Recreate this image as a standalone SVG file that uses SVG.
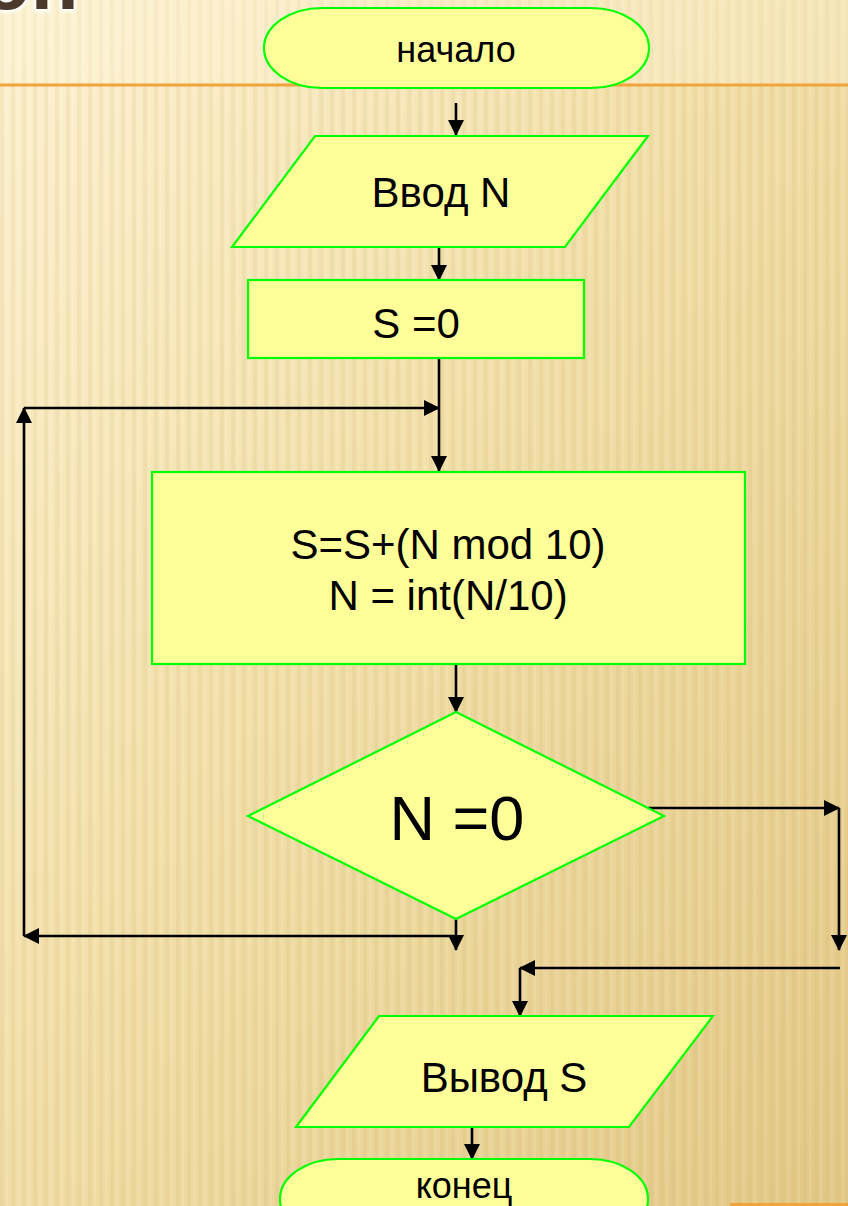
<svg xmlns="http://www.w3.org/2000/svg" width="848" height="1206" viewBox="0 0 848 1206">
  <defs>
    <linearGradient id="bg" x1="0" y1="0" x2="1" y2="1">
      <stop offset="0" stop-color="#fdf1d1"/>
      <stop offset="0.45" stop-color="#f2dfa9"/>
      <stop offset="1" stop-color="#e2c886"/>
    </linearGradient>
    <pattern id="stripes" width="11" height="40" patternUnits="userSpaceOnUse">
      <rect x="0" y="0" width="4" height="40" fill="#c9a85a" opacity="0.13"/>
      <rect x="6" y="0" width="2" height="40" fill="#ffffff" opacity="0.10"/>
    </pattern>
    <filter id="glow" x="-20%" y="-20%" width="140%" height="140%">
      <feGaussianBlur stdDeviation="1.5"/>
    </filter>
    <marker id="arrow" markerWidth="16" markerHeight="16" viewBox="0 0 16 16" refX="15" refY="8" orient="auto" markerUnits="userSpaceOnUse">
      <path d="M0,0 L16,8 L0,16 Z" fill="#000"/>
    </marker>
    <style>
      .shape { fill: #ffff99; stroke: #00ff00; stroke-width: 2.2; }
      .conn { fill: none; stroke: #000; stroke-width: 2.6; }
      .lbl { font-family: "Liberation Sans", Arial, sans-serif; fill: #000; text-anchor: middle; font-size: 42px; }
      .term { font-size: 36px; }
      .big { font-size: 63px; }
      .title { font-family: "Liberation Sans", Arial, sans-serif; font-size: 80px; font-weight: bold; }
    </style>
  </defs>

  <!-- slide background -->
  <rect x="0" y="0" width="848" height="1206" fill="url(#bg)"/>
  <rect x="0" y="0" width="848" height="1206" fill="url(#stripes)"/>
  <rect x="0" y="0" width="848" height="86" fill="#fff6dc" opacity="0.35"/>

  <!-- title remnant and rule -->
  <g id="title">
    <text class="title" x="-18" y="9" fill="#fff" stroke="#fff" stroke-width="5" filter="url(#glow)">он</text>
    <text class="title" x="-18" y="9" fill="#4b3a2c">он</text>
  </g>
  <line x1="0" y1="85" x2="848" y2="85" stroke="#f0a43a" stroke-width="3"/>
  <rect x="730" y="1203" width="118" height="3" fill="#f0a43a"/>

  <!-- connectors -->
  <g id="connectors">
    <line class="conn" x1="456" y1="103" x2="456" y2="135" marker-end="url(#arrow)"/>
    <line class="conn" x1="439" y1="247" x2="439" y2="280" marker-end="url(#arrow)"/>
    <line class="conn" x1="439" y1="358" x2="439" y2="471" marker-end="url(#arrow)"/>
    <line class="conn" x1="456" y1="664" x2="456" y2="712" marker-end="url(#arrow)"/>
    <!-- loop back: diamond bottom to left rail and up -->
    <line class="conn" x1="456" y1="918" x2="456" y2="950" marker-end="url(#arrow)"/>
    <line class="conn" x1="456" y1="936" x2="24" y2="936" marker-end="url(#arrow)"/>
    <line class="conn" x1="24" y1="936" x2="24" y2="408" marker-end="url(#arrow)"/>
    <line class="conn" x1="24" y1="408" x2="439" y2="408" marker-end="url(#arrow)"/>
    <!-- exit: diamond right to output -->
    <line class="conn" x1="648" y1="808" x2="839" y2="808" marker-end="url(#arrow)"/>
    <line class="conn" x1="839" y1="808" x2="839" y2="950" marker-end="url(#arrow)"/>
    <line class="conn" x1="840" y1="968" x2="520" y2="968" marker-end="url(#arrow)"/>
    <line class="conn" x1="520" y1="968" x2="520" y2="1016" marker-end="url(#arrow)"/>
    <line class="conn" x1="472" y1="1127" x2="472" y2="1159" marker-end="url(#arrow)"/>
  </g>

  <g id="start">
    <rect class="shape" x="264" y="8" width="385" height="80" rx="58" ry="40"/>
    <text class="lbl term" x="456" y="62">начало</text>
  </g>

  <g id="input">
    <polygon class="shape" points="315,136 648,136 565,247 232,247"/>
    <text class="lbl" x="441" y="207">Ввод N</text>
  </g>

  <g id="init">
    <rect class="shape" x="248" y="280" width="336" height="78"/>
    <text class="lbl" x="416" y="338">S =0</text>
  </g>

  <g id="body">
    <rect class="shape" x="152" y="472" width="593" height="192"/>
    <text class="lbl" x="448" y="559">S=S+(N mod 10)</text>
    <text class="lbl" x="448" y="610">N = int(N/10)</text>
  </g>

  <g id="check">
    <polygon class="shape" points="456,712 664,816 456,919 248,816"/>
    <text class="lbl big" x="457" y="840">N =0</text>
  </g>

  <g id="output">
    <polygon class="shape" points="379,1016 713,1016 629,1127 296,1127"/>
    <text class="lbl" x="504" y="1092">Вывод S</text>
  </g>

  <g id="end">
    <rect class="shape" x="280" y="1159" width="368" height="80" rx="58" ry="40"/>
    <text class="lbl term" x="464" y="1198">конец</text>
  </g>
</svg>
